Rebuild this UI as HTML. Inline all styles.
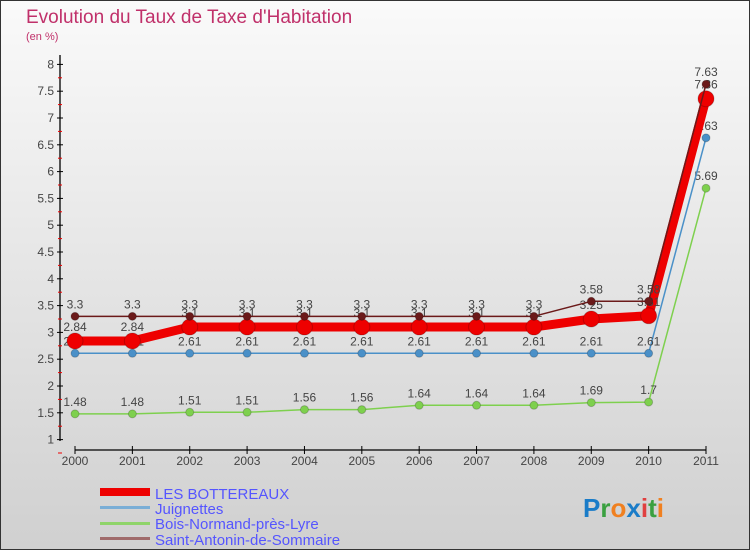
<!DOCTYPE html>
<html><head><meta charset="utf-8"><style>
body{margin:0;font-family:"Liberation Sans",sans-serif}
</style></head><body>
<svg width="750" height="550" xmlns="http://www.w3.org/2000/svg" font-family="Liberation Sans, sans-serif">
<defs><linearGradient id="bg" x1="0" y1="0" x2="0" y2="1"><stop offset="0" stop-color="#fafafa"/><stop offset="1" stop-color="#d0d0d0"/></linearGradient></defs>
<rect x="0.5" y="0.5" width="749" height="549" fill="url(#bg)" stroke="#333"/>
<text x="26" y="23" font-size="19" fill="#c0306a">Evolution du Taux de Taxe d'Habitation</text>
<text x="26" y="40" font-size="11" fill="#c0306a">(en %)</text>
<g id="axes"></g>
<g id="series"></g>
<g id="legend">
<rect x="100" y="488" width="50" height="8" fill="#e00"/>
<text x="155" y="499" font-size="15" fill="#55f">LES BOTTEREAUX</text>
<rect x="100" y="506" width="50" height="3" fill="#7aaed6"/>
<text x="155" y="514" font-size="15" fill="#55f">Juignettes</text>
<rect x="100" y="522" width="50" height="3" fill="#8fd46a"/>
<text x="155" y="529" font-size="15" fill="#55f">Bois-Normand-près-Lyre</text>
<rect x="100" y="537" width="50" height="3" fill="#a06b6b"/>
<text x="155" y="545" font-size="15" fill="#55f">Saint-Antonin-de-Sommaire</text>
</g>
<text x="583" y="517" font-size="26" font-weight="bold"><tspan fill="#1a7cc8">P</tspan><tspan fill="#3aa040">r</tspan><tspan fill="#f08020">o</tspan><tspan fill="#1a7cc8">x</tspan><tspan fill="#e04040">i</tspan><tspan fill="#3aa040">t</tspan><tspan fill="#f08020">i</tspan></text>
</svg>
<script>
const years=[2000,2001,2002,2003,2004,2005,2006,2007,2008,2009,2010,2011];
const yTicks=[1,1.5,2,2.5,3,3.5,4,4.5,5,5.5,6,6.5,7,7.5,8];
const bottereaux=[2.84,2.84,3.1,3.1,3.1,3.1,3.1,3.1,3.1,3.25,3.31,7.36];
const juignettes=[2.61,2.61,2.61,2.61,2.61,2.61,2.61,2.61,2.61,2.61,2.61,6.63];
const boisNormand=[1.48,1.48,1.51,1.51,1.56,1.56,1.64,1.64,1.64,1.69,1.7,5.69];
const saintAntonin=[3.3,3.3,3.3,3.3,3.3,3.3,3.3,3.3,3.3,3.58,3.58,7.63];
const NS="http://www.w3.org/2000/svg";
const xs=i=>75+i*(706-75)/(years.length-1);
const ys=v=>386-(v-2)*53.6;
function mk(tag,attrs,parent){const e=document.createElementNS(NS,tag);for(const k in attrs)e.setAttribute(k,attrs[k]);parent.appendChild(e);return e;}
const ax=document.getElementById('axes');
let yl=mk('line',{x1:60,y1:55,x2:60,y2:441,stroke:'#000','stroke-width':1.3},ax);


let xl=mk('line',{x1:75,y1:450,x2:706,y2:450,stroke:'#000','stroke-width':1.3},ax);


yTicks.forEach(v=>{
 const y=ys(v);
 mk('line',{x1:57,y1:y,x2:63,y2:y,stroke:'#000'},ax);
 mk('line',{x1:58,y1:y+13.4,x2:62,y2:y+13.4,stroke:'#e00'},ax);
 const t=mk('text',{x:54,y:y+4,'font-size':12,fill:'#444','text-anchor':'end'},ax);
 t.textContent=v;
 
 
});
years.forEach((yr,i)=>{
 const x=xs(i);
 mk('line',{x1:x,y1:446,x2:x,y2:454,stroke:'#000'},ax);
 const t=mk('text',{x:x,y:465,'font-size':12,fill:'#444','text-anchor':'middle'},ax);
 t.textContent=yr;
 
 
});
const sg=document.getElementById('series');
function draw(vals,color,w,r,name,dy){
 const g=mk('g',{},sg);
 
 
 const pl=mk('polyline',{points:vals.map((v,i)=>xs(i)+','+ys(v)).join(' '),fill:'none',stroke:color,'stroke-width':w,'stroke-linejoin':'round'},g);
 
 
 vals.forEach((v,i)=>{
  const c=mk('circle',{cx:xs(i),cy:ys(v),r:r,fill:color,stroke:'rgba(0,0,0,0.2)'},g);
  
  
  const t=mk('text',{x:xs(i),y:ys(v)-dy,'font-size':12,fill:'#444','text-anchor':'middle'},g);
  t.textContent=String(v);
  
  
 });
}
draw(boisNormand,'#7ed04e',1.5,4,'bois-normand',8);
draw(juignettes,'#4a90c8',1.5,4,'juignettes',8);
draw(bottereaux,'#e00',9,8,'les-bottereaux',10);
draw(saintAntonin,'#6b1a1a',1.5,4,'saint-antonin',8);
</script>
</body></html>
